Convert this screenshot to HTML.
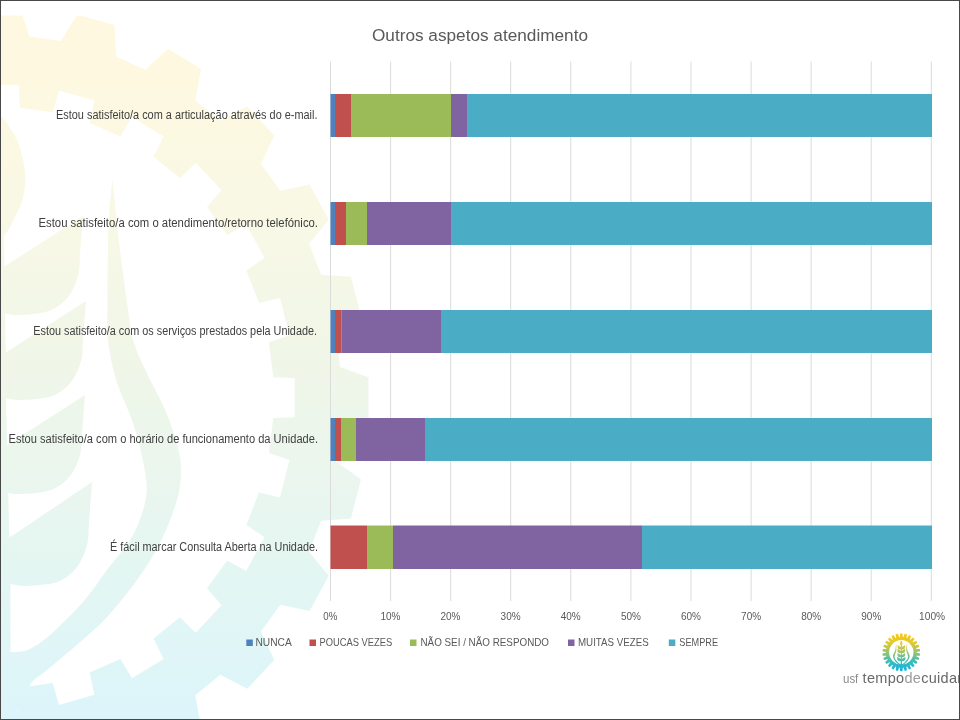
<!DOCTYPE html>
<html><head><meta charset="utf-8"><title>Outros aspetos atendimento</title>
<style>
html,body{margin:0;padding:0;background:#fff;}
body{width:960px;height:720px;overflow:hidden;position:relative;font-family:"Liberation Sans",sans-serif;}
svg{position:absolute;left:0;top:0;display:block;will-change:transform;}
text{font-family:"Liberation Sans",sans-serif;}
</style></head><body>
<svg width="960" height="720" viewBox="0 0 960 720">
<defs>
<linearGradient id="wm" gradientUnits="userSpaceOnUse" x1="0" y1="0" x2="0" y2="720">
<stop offset="0.022" stop-color="#FFF8E1"/>
<stop offset="0.086" stop-color="#FFF8E0"/>
<stop offset="0.208" stop-color="#FBF8E3"/>
<stop offset="0.34" stop-color="#F7F8E6"/>
<stop offset="0.496" stop-color="#F0F6E8"/>
<stop offset="0.656" stop-color="#EBF6EE"/>
<stop offset="0.806" stop-color="#E3F6F3"/>
<stop offset="0.975" stop-color="#DDF5FA"/>
</linearGradient>
<linearGradient id="lg" gradientUnits="userSpaceOnUse" x1="0" y1="6" x2="0" y2="790">
<stop offset="0" stop-color="#F9C80E"/>
<stop offset="0.25" stop-color="#E3CB2C"/>
<stop offset="0.5" stop-color="#96C56E"/>
<stop offset="0.75" stop-color="#36BDBE"/>
<stop offset="1" stop-color="#12B3E2"/>
</linearGradient>
<clipPath id="page"><rect x="1" y="15.5" width="958" height="703.5"/></clipPath>
<path id="gear" fill-rule="evenodd" d="M-28.1 36.6 L-18.5 6.4 L19.8 6.4 L29.4 36.6 L60.8 41.0 L77.4 14.5 L114.4 25.0 L116.3 56.8 L145.5 69.7 L168.0 48.7 L201.1 69.0 L195.3 100.2 L220.4 120.7 L247.2 106.6 L274.3 135.4 L261.0 164.0 L280.3 190.7 L309.6 184.4 L328.8 219.7 L309.0 243.6 L321.1 274.7 L351.0 276.8 L360.9 316.1 L336.0 333.8 L340.1 367.1 L368.5 377.3 L368.5 418.1 L340.1 428.3 L336.0 461.6 L360.9 479.3 L351.0 518.6 L321.1 520.7 L309.0 551.8 L328.8 575.7 L309.6 611.0 L280.3 604.7 L261.0 631.4 L274.3 660.0 L247.2 688.8 L220.4 674.7 L195.3 695.2 L201.1 726.4 L168.0 746.7 L145.5 725.7 L116.3 738.6 L114.4 770.4 L77.4 780.9 L60.8 754.4 L29.4 758.8 L19.8 789.0 L-18.5 789.0 L-28.1 758.8 L-59.5 754.4 L-76.0 780.9 L-113.0 770.4 L-114.9 738.6 L-144.2 725.7 L-166.7 746.7 L-199.8 726.4 L-194.0 695.2 L-219.1 674.7 L-245.9 688.8 L-273.0 660.0 L-259.7 631.4 L-279.0 604.7 L-308.3 611.0 L-327.4 575.7 L-307.7 551.8 L-319.8 520.7 L-349.7 518.6 L-359.6 479.3 L-334.7 461.6 L-338.8 428.3 L-367.1 418.1 L-367.1 377.3 L-338.8 367.1 L-334.7 333.8 L-359.6 316.1 L-349.7 276.8 L-319.8 274.7 L-307.7 243.6 L-327.4 219.7 L-308.3 184.4 L-279.0 190.7 L-259.7 164.0 L-273.0 135.4 L-245.9 106.6 L-219.1 120.7 L-194.0 100.2 L-199.8 69.0 L-166.7 48.7 L-144.2 69.7 L-114.9 56.8 L-113.0 25.0 L-76.0 14.5 L-59.5 41.0 Z M18.9 84.9 L19.8 107.7 L52.7 112.3 L59.1 90.5 L94.4 100.6 L89.7 122.9 L120.4 136.4 L131.9 117.1 L163.5 136.5 L153.6 156.8 L179.9 178.2 L195.7 162.7 L221.5 190.2 L207.0 207.1 L227.2 235.0 L246.2 224.4 L264.5 258.1 L246.3 270.4 L259.0 302.9 L280.0 297.9 L289.4 335.5 L268.9 342.3 L273.3 377.3 L294.7 378.2 L294.7 417.2 L273.3 418.1 L268.9 453.1 L289.4 459.9 L280.0 497.5 L259.0 492.5 L246.3 525.0 L264.5 537.3 L246.2 571.0 L227.2 560.4 L207.0 588.3 L221.5 605.2 L195.7 632.7 L179.9 617.2 L153.6 638.6 L163.5 658.9 L131.9 678.3 L120.4 659.0 L89.7 672.5 L94.4 694.8 L59.1 704.9 L52.7 683.1 L19.8 687.7 L18.9 710.5 L-17.6 710.5 L-18.5 687.7 L-51.4 683.1 L-57.8 704.9 L-93.1 694.8 L-88.4 672.5 L-119.0 659.0 L-130.5 678.3 L-162.2 658.9 L-152.2 638.6 L-178.5 617.2 L-194.4 632.7 L-220.2 605.2 L-205.7 588.3 L-225.8 560.4 L-244.9 571.0 L-263.2 537.3 L-245.0 525.0 L-257.7 492.5 L-278.7 497.5 L-288.1 459.9 L-267.6 453.1 L-271.9 418.1 L-293.4 417.2 L-293.4 378.2 L-271.9 377.3 L-267.6 342.3 L-288.1 335.5 L-278.7 297.9 L-257.7 302.9 L-245.0 270.4 L-263.2 258.1 L-244.9 224.4 L-225.8 235.0 L-205.7 207.1 L-220.2 190.2 L-194.4 162.7 L-178.5 178.2 L-152.2 156.8 L-162.2 136.5 L-130.5 117.1 L-119.0 136.4 L-88.4 122.9 L-93.1 100.6 L-57.8 90.5 L-51.4 112.3 L-18.5 107.7 L-17.6 84.9 Z"/>
<g id="half"><path d="M112.5 179.0 C113.1 185.0 114.8 203.2 116.0 215.0 C117.2 226.8 118.0 234.2 120.0 250.0 C122.0 265.8 125.8 295.0 128.0 310.0 C130.2 325.0 130.0 329.8 133.0 340.0 C136.0 350.2 140.5 359.5 145.8 371.0 C151.1 382.5 159.4 396.6 164.6 408.8 C169.8 420.9 174.3 433.8 177.0 444.0 C179.7 454.2 181.0 460.7 181.0 470.0 C181.0 479.3 180.5 487.8 177.0 500.0 C173.5 512.2 166.7 529.7 160.0 543.0 C153.3 556.3 145.7 567.8 137.0 580.0 C128.3 592.2 117.1 606.0 108.0 616.0 C98.9 626.0 92.2 631.4 82.5 640.0 C72.8 648.6 58.4 660.5 50.0 667.5 C41.6 674.5 35.5 678.1 32.0 682.0 C28.5 685.9 28.8 687.7 29.0 691.0 C29.2 694.3 32.3 700.2 33.0 702.0 L-10 725 L-10 652 L0.0 652.5 C1.7 652.4 5.4 652.4 10.0 652.0 C14.6 651.6 20.8 652.8 27.5 650.0 C34.2 647.2 40.8 642.9 50.0 635.0 C59.2 627.1 73.0 613.3 82.5 602.5 C92.0 591.7 98.6 581.2 107.0 570.0 C115.4 558.8 126.5 547.1 133.0 535.0 C139.5 522.9 144.2 509.2 146.0 497.5 C147.8 485.8 145.9 477.4 143.8 465.0 C141.6 452.6 137.5 436.9 133.0 423.0 C128.5 409.1 120.9 395.5 116.7 381.7 C112.5 367.9 109.5 353.6 108.0 340.0 C106.5 326.4 107.5 315.0 107.5 300.0 C107.5 285.0 107.8 264.2 108.0 250.0 C108.2 235.8 108.2 226.8 109.0 215.0 C109.8 203.2 111.9 185.0 112.5 179.0 Z"/><path d="M0.7 116.0 C1.9 117.5 4.9 120.2 8.0 125.0 C11.1 129.8 16.2 137.1 19.0 145.0 C21.8 152.9 24.3 163.8 25.0 172.5 C25.7 181.2 25.1 189.2 23.0 197.5 C20.9 205.8 15.5 216.2 12.5 222.5 C9.5 228.8 7.0 231.9 5.0 235.0 C3.0 238.1 1.4 240.0 0.7 241.0 L-10 241 L-10 116 Z"/><path d="M-10 236 L4 236 L6.5 420 L10.5 590 L10.5 660 L-10 660 Z"/><path d="M83.0 216.0 C82.5 222.5 80.8 245.0 80.0 255.0 C79.2 265.0 80.0 269.0 78.0 276.0 C76.0 283.0 72.8 291.2 68.0 297.0 C63.2 302.8 57.3 308.0 49.0 311.0 C40.7 314.0 25.8 314.7 18.0 315.0 C10.2 315.3 4.7 313.3 2.0 313.0 L-10 313.0 L-10 273.0 L2.0 268.0 Z"/><path d="M86.0 301.0 C85.5 307.5 83.8 330.0 83.0 340.0 C82.2 350.0 83.0 354.0 81.0 361.0 C79.0 368.0 75.8 376.2 71.0 382.0 C66.2 387.8 60.3 393.0 52.0 396.0 C43.7 399.0 28.8 399.7 21.0 400.0 C13.2 400.3 7.7 398.3 5.0 398.0 L-10 398.0 L-10 358.0 L5.0 353.0 Z"/><path d="M85.0 395.0 C84.5 401.5 82.8 424.0 82.0 434.0 C81.2 444.0 82.0 448.0 80.0 455.0 C78.0 462.0 74.8 470.2 70.0 476.0 C65.2 481.8 59.3 487.0 51.0 490.0 C42.7 493.0 27.8 493.7 20.0 494.0 C12.2 494.3 6.7 492.3 4.0 492.0 L-10 492.0 L-10 452.0 L4.0 447.0 Z"/><path d="M92.0 482.0 C91.5 488.8 89.8 512.5 89.0 523.0 C88.2 533.5 89.0 537.6 87.0 545.0 C85.0 552.4 81.8 560.9 77.0 567.0 C72.2 573.2 66.3 578.6 58.0 581.8 C49.7 584.9 34.8 585.6 27.0 586.0 C19.2 586.3 13.7 584.2 11.0 583.9 L-10 583.9 L-10 541.9 L11.0 536.6 Z"/></g>
</defs>
<rect x="0" y="0" width="960" height="720" fill="#fff"/>
<g id="watermark" clip-path="url(#page)" fill="url(#wm)"><use href="#gear"/><use href="#half"/></g>
<g id="grid" stroke="#DBDBDB" stroke-width="1">
<line x1="330.5" y1="61.5" x2="330.5" y2="601"/>
<line x1="390.6" y1="61.5" x2="390.6" y2="601"/>
<line x1="450.7" y1="61.5" x2="450.7" y2="601"/>
<line x1="510.7" y1="61.5" x2="510.7" y2="601"/>
<line x1="570.8" y1="61.5" x2="570.8" y2="601"/>
<line x1="630.9" y1="61.5" x2="630.9" y2="601"/>
<line x1="691.0" y1="61.5" x2="691.0" y2="601"/>
<line x1="751.1" y1="61.5" x2="751.1" y2="601"/>
<line x1="811.1" y1="61.5" x2="811.1" y2="601"/>
<line x1="871.2" y1="61.5" x2="871.2" y2="601"/>
<line x1="931.3" y1="61.5" x2="931.3" y2="601"/>
</g>
<g id="bars">
<rect x="330.5" y="94.0" width="4.5" height="43.0" fill="#4F81BD"/>
<rect x="335.0" y="94.0" width="16.0" height="43.0" fill="#C0504D"/>
<rect x="351.0" y="94.0" width="100.0" height="43.0" fill="#9BBB59"/>
<rect x="451.0" y="94.0" width="16.0" height="43.0" fill="#8064A2"/>
<rect x="467.0" y="94.0" width="465.0" height="43.0" fill="#4BACC6"/>
<rect x="330.5" y="202.0" width="4.5" height="43.0" fill="#4F81BD"/>
<rect x="335.0" y="202.0" width="11.0" height="43.0" fill="#C0504D"/>
<rect x="346.0" y="202.0" width="21.0" height="43.0" fill="#9BBB59"/>
<rect x="367.0" y="202.0" width="84.0" height="43.0" fill="#8064A2"/>
<rect x="451.0" y="202.0" width="481.0" height="43.0" fill="#4BACC6"/>
<rect x="330.5" y="310.0" width="4.5" height="43.0" fill="#4F81BD"/>
<rect x="335.0" y="310.0" width="6.3" height="43.0" fill="#C0504D"/>
<rect x="341.3" y="310.0" width="99.7" height="43.0" fill="#8064A2"/>
<rect x="441.0" y="310.0" width="491.0" height="43.0" fill="#4BACC6"/>
<rect x="330.5" y="418.0" width="4.5" height="43.0" fill="#4F81BD"/>
<rect x="335.0" y="418.0" width="6.0" height="43.0" fill="#C0504D"/>
<rect x="341.0" y="418.0" width="15.0" height="43.0" fill="#9BBB59"/>
<rect x="356.0" y="418.0" width="69.0" height="43.0" fill="#8064A2"/>
<rect x="425.0" y="418.0" width="507.0" height="43.0" fill="#4BACC6"/>
<rect x="330.5" y="525.5" width="36.5" height="43.5" fill="#C0504D"/>
<rect x="367.0" y="525.5" width="26.0" height="43.5" fill="#9BBB59"/>
<rect x="393.0" y="525.5" width="249.0" height="43.5" fill="#8064A2"/>
<rect x="642.0" y="525.5" width="290.0" height="43.5" fill="#4BACC6"/>
</g>
<text id="title" x="372" y="40.6" font-size="17.2" fill="#595959" textLength="216" lengthAdjust="spacingAndGlyphs">Outros aspetos atendimento</text>
<g id="cats" font-size="12" fill="#404040">
<text x="56.0" y="119.2" textLength="261.5" lengthAdjust="spacingAndGlyphs">Estou satisfeito/a com a articulação através do e-mail.</text>
<text x="38.5" y="227.2" textLength="279.5" lengthAdjust="spacingAndGlyphs">Estou satisfeito/a com o atendimento/retorno telefónico.</text>
<text x="33.3" y="335.2" textLength="283.7" lengthAdjust="spacingAndGlyphs">Estou satisfeito/a com os serviços prestados pela Unidade.</text>
<text x="8.6" y="443.2" textLength="309.4" lengthAdjust="spacingAndGlyphs">Estou satisfeito/a com o horário de funcionamento da Unidade.</text>
<text x="110.0" y="551.0" textLength="208.0" lengthAdjust="spacingAndGlyphs">É fácil marcar Consulta Aberta na Unidade.</text>
</g>
<g id="axis" font-size="11" fill="#595959">
<text x="323.3" y="620" textLength="14.0" lengthAdjust="spacingAndGlyphs">0%</text>
<text x="380.4" y="620" textLength="20.0" lengthAdjust="spacingAndGlyphs">10%</text>
<text x="440.5" y="620" textLength="20.0" lengthAdjust="spacingAndGlyphs">20%</text>
<text x="500.6" y="620" textLength="20.0" lengthAdjust="spacingAndGlyphs">30%</text>
<text x="560.7" y="620" textLength="20.0" lengthAdjust="spacingAndGlyphs">40%</text>
<text x="620.9" y="620" textLength="20.0" lengthAdjust="spacingAndGlyphs">50%</text>
<text x="681.0" y="620" textLength="20.0" lengthAdjust="spacingAndGlyphs">60%</text>
<text x="741.1" y="620" textLength="20.0" lengthAdjust="spacingAndGlyphs">70%</text>
<text x="801.2" y="620" textLength="20.0" lengthAdjust="spacingAndGlyphs">80%</text>
<text x="861.3" y="620" textLength="20.0" lengthAdjust="spacingAndGlyphs">90%</text>
<text x="919.1" y="620" textLength="26.0" lengthAdjust="spacingAndGlyphs">100%</text>
</g>
<g id="legend" font-size="11" fill="#595959">
<rect x="246.3" y="639.5" width="6.5" height="6.5" fill="#4F81BD"/>
<text x="255.5" y="646.3" textLength="36.3" lengthAdjust="spacingAndGlyphs">NUNCA</text>
<rect x="309.5" y="639.5" width="6.5" height="6.5" fill="#C0504D"/>
<text x="319.5" y="646.3" textLength="72.8" lengthAdjust="spacingAndGlyphs">POUCAS VEZES</text>
<rect x="410.0" y="639.5" width="6.5" height="6.5" fill="#9BBB59"/>
<text x="420.5" y="646.3" textLength="128.5" lengthAdjust="spacingAndGlyphs">NÃO SEI / NÃO RESPONDO</text>
<rect x="568.0" y="639.5" width="6.5" height="6.5" fill="#8064A2"/>
<text x="578.0" y="646.3" textLength="70.8" lengthAdjust="spacingAndGlyphs">MUITAS VEZES</text>
<rect x="668.8" y="639.5" width="6.5" height="6.5" fill="#4BACC6"/>
<text x="679.3" y="646.3" textLength="38.7" lengthAdjust="spacingAndGlyphs">SEMPRE</text>
</g>
<g id="logo">
<linearGradient id="lg2" gradientUnits="userSpaceOnUse" x1="0" y1="633" x2="0" y2="671.5"><stop offset="0" stop-color="#F9C80E"/><stop offset="0.25" stop-color="#E3CB2C"/><stop offset="0.5" stop-color="#96C56E"/><stop offset="0.75" stop-color="#36BDBE"/><stop offset="1" stop-color="#12B3E2"/></linearGradient>
<path fill="url(#lg2)" fill-rule="evenodd" d="M899.80 636.97 L900.15 633.44 L902.45 633.44 L902.80 636.97 L903.51 637.06 L904.70 633.71 L906.93 634.26 L906.42 637.78 L907.09 638.03 L909.05 635.06 L911.09 636.13 L909.75 639.43 L910.34 639.83 L912.95 637.42 L914.67 638.94 L912.59 641.82 L913.06 642.36 L916.17 640.64 L917.48 642.53 L914.77 644.83 L915.10 645.46 L918.53 644.54 L919.35 646.69 L916.16 648.27 L916.33 648.96 L919.89 648.88 L920.17 651.17 L916.70 651.94 L916.70 652.66 L920.17 653.43 L919.89 655.72 L916.33 655.64 L916.16 656.33 L919.35 657.91 L918.53 660.06 L915.10 659.14 L914.77 659.77 L917.48 662.07 L916.17 663.96 L913.06 662.24 L912.59 662.78 L914.67 665.66 L912.95 667.18 L910.34 664.77 L909.75 665.17 L911.09 668.47 L909.05 669.54 L907.09 666.57 L906.42 666.82 L906.93 670.34 L904.70 670.89 L903.51 667.54 L902.80 667.63 L902.45 671.16 L900.15 671.16 L899.80 667.63 L899.09 667.54 L897.90 670.89 L895.67 670.34 L896.18 666.82 L895.51 666.57 L893.55 669.54 L891.51 668.47 L892.85 665.17 L892.26 664.77 L889.65 667.18 L887.93 665.66 L890.01 662.78 L889.54 662.24 L886.43 663.96 L885.12 662.07 L887.83 659.77 L887.50 659.14 L884.07 660.06 L883.25 657.91 L886.44 656.33 L886.27 655.64 L882.71 655.72 L882.43 653.43 L885.90 652.66 L885.90 651.94 L882.43 651.17 L882.71 648.88 L886.27 648.96 L886.44 648.27 L883.25 646.69 L884.07 644.54 L887.50 645.46 L887.83 644.83 L885.12 642.53 L886.43 640.64 L889.54 642.36 L890.01 641.82 L887.93 638.94 L889.65 637.42 L892.26 639.83 L892.85 639.43 L891.51 636.13 L893.55 635.06 L895.51 638.03 L896.18 637.78 L895.67 634.26 L897.90 633.71 L899.09 637.06 Z M889.10 652.30 A12.20 12.20 0 1 0 913.50 652.30 A12.20 12.20 0 1 0 889.10 652.30 Z"/>
<g fill="url(#lg)" transform="translate(901.3 653.0) scale(0.04616 0.04339) translate(-0.66 -397.70)"><use href="#half"/><use href="#half" transform="translate(1.32 0) scale(-1 1)"/></g>
<text x="843" y="682.8" font-size="13.5" fill="#8a8a8a" textLength="15.3" lengthAdjust="spacingAndGlyphs">usf</text>
<text x="862.6" y="682.8" font-size="14.5" fill="#686868" letter-spacing="0.3">tempo<tspan fill="#9c9c9c">de</tspan>cuidar</text>
</g>
<g id="border" fill="#484848" shape-rendering="crispEdges"><rect x="0" y="0" width="960" height="1"/><rect x="0" y="719" width="960" height="1"/><rect x="0" y="0" width="1" height="720"/><rect x="959" y="0" width="1" height="720"/></g>
</svg>
</body></html>
